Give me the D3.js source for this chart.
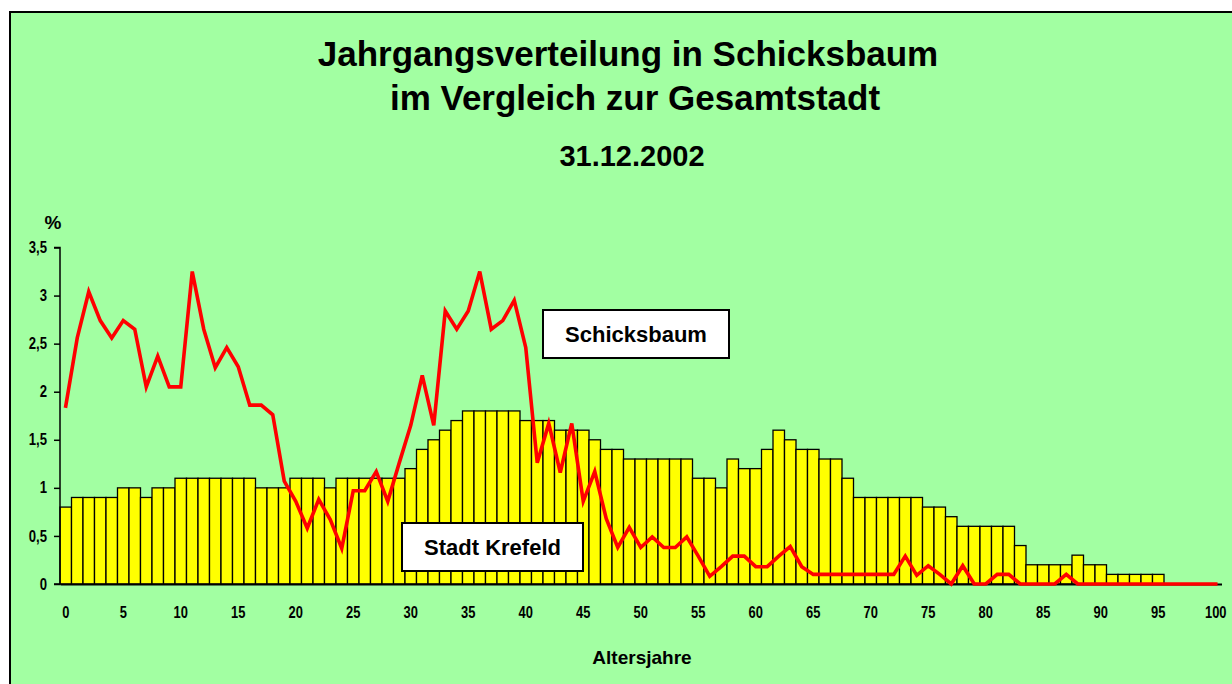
<!DOCTYPE html>
<html>
<head>
<meta charset="utf-8">
<script src="https://cdn.jsdelivr.net/npm/d3@7"></script>
<style>
  body { margin: 0; background: #ffffff; }
  svg { display: block; font-family: "Liberation Sans", Arial, sans-serif; }
</style>
</head>
<body>
<div id="my-chart"></div>
<script>
// ages 0..100
var ages = d3.range(0, 101);

// Stadt Krefeld, share of each age group in % (bars)
var krefeld = [
  0.8, 0.9, 0.9, 0.9, 0.9, 1.0, 1.0, 0.9, 1.0, 1.0,
  1.1, 1.1, 1.1, 1.1, 1.1, 1.1, 1.1, 1.0, 1.0, 1.0,
  1.1, 1.1, 1.1, 1.0, 1.1, 1.1, 1.1, 1.1, 1.1, 1.1,
  1.2, 1.4, 1.5, 1.6, 1.7, 1.8, 1.8, 1.8, 1.8, 1.8,
  1.7, 1.7, 1.7, 1.6, 1.6, 1.6, 1.5, 1.4, 1.4, 1.3,
  1.3, 1.3, 1.3, 1.3, 1.3, 1.1, 1.1, 1.0, 1.3, 1.2,
  1.2, 1.4, 1.6, 1.5, 1.4, 1.4, 1.3, 1.3, 1.1, 0.9,
  0.9, 0.9, 0.9, 0.9, 0.9, 0.8, 0.8, 0.7, 0.6, 0.6,
  0.6, 0.6, 0.6, 0.4, 0.2, 0.2, 0.2, 0.2, 0.3, 0.2,
  0.2, 0.1, 0.1, 0.1, 0.1, 0.1, 0, 0, 0, 0,
  0
];

// Schicksbaum, share of each age group in % (line)
var schicksbaum = [
  1.85, 2.56, 3.04, 2.74, 2.56, 2.74, 2.65, 2.05, 2.37, 2.05,
  2.05, 3.25, 2.65, 2.25, 2.46, 2.26, 1.86, 1.86, 1.76, 1.07,
  0.86, 0.58, 0.88, 0.67, 0.37, 0.97, 0.97, 1.17, 0.86, 1.26,
  1.65, 2.17, 1.65, 2.84, 2.65, 2.84, 3.25, 2.65, 2.74, 2.95,
  2.46, 1.26, 1.67, 1.16, 1.67, 0.86, 1.17, 0.68, 0.38, 0.59,
  0.38, 0.49, 0.38, 0.38, 0.49, 0.29, 0.08, 0.18, 0.29, 0.29,
  0.18, 0.18, 0.29, 0.39, 0.18, 0.1, 0.1, 0.1, 0.1, 0.1,
  0.1, 0.1, 0.1, 0.29, 0.09, 0.19, 0.1, 0, 0.19, 0,
  0, 0.1, 0.1, 0, 0, 0, 0, 0.1, 0, 0,
  0, 0, 0, 0, 0, 0, 0, 0, 0, 0,
  0
];

var yTicks = [0, 0.5, 1, 1.5, 2, 2.5, 3, 3.5];
var xTicks = d3.range(0, 101, 5);

var width = 1232, height = 684;
var narrow = 0.76;   // tick labels in the original are a narrow face

var svg = d3.select('#my-chart').append('svg')
  .attr('width', width)
  .attr('height', height);

// green chart area with black frame (right and bottom edge fall outside the picture)
svg.append('rect')
  .attr('x', 10).attr('y', 12)
  .attr('width', 1300).attr('height', 700)
  .attr('fill', '#a2ffa2')
  .attr('stroke', '#000').attr('stroke-width', 2);

// titles
svg.append('text').attr('x', 628).attr('y', 66)
  .attr('text-anchor', 'middle').attr('font-size', 35).attr('font-weight', 'bold')
  .text('Jahrgangsverteilung in Schicksbaum');
svg.append('text').attr('x', 635).attr('y', 110)
  .attr('text-anchor', 'middle').attr('font-size', 35).attr('font-weight', 'bold')
  .text('im Vergleich zur Gesamtstadt');
svg.append('text').attr('x', 632).attr('y', 166)
  .attr('text-anchor', 'middle').attr('font-size', 29).attr('font-weight', 'bold')
  .text('31.12.2002');

var x = d3.scaleBand().domain(ages).range([60, 1221.5]).padding(0);
var y = d3.scaleLinear().domain([0, 3.5]).range([584, 247.5]);

// bars: Stadt Krefeld
svg.append('g').selectAll('rect')
  .data(ages)
  .enter().append('rect')
  .attr('x', function(d) { return x(d); })
  .attr('y', function(d) { return y(krefeld[d]); })
  .attr('width', x.bandwidth())
  .attr('height', function(d) { return y(0) - y(krefeld[d]); })
  .attr('fill', '#ffff00')
  .attr('stroke', '#000')
  .attr('stroke-width', 1.3);

// y axis
var yAxis = d3.axisLeft(y)
  .tickValues(yTicks)
  .tickSize(6)
  .tickPadding(7)
  .tickFormat(function(d) { return String(d).replace('.', ','); });

var gy = svg.append('g').attr('transform', 'translate(60,0)').call(yAxis);
gy.select('.domain').attr('stroke', '#000').attr('stroke-width', 1.5).attr('d', 'M-6,247.5H0V584H-6');
gy.selectAll('line').attr('stroke-width', 1.5);
gy.selectAll('text')
  .attr('font-size', 16).attr('font-weight', 'bold')
  .attr('font-family', '"Liberation Sans", Arial, sans-serif')
  .attr('x', -13 / 0.82)
  .attr('transform', 'scale(0.82,1)');

// x axis: labels only plus base line
var xAxis = d3.axisBottom(x)
  .tickValues(xTicks)
  .tickSize(0)
  .tickPadding(22);

var gx = svg.append('g').attr('transform', 'translate(0,584)').call(xAxis);
gx.select('.domain').attr('stroke', '#000').attr('stroke-width', 2);
gx.selectAll('text')
  .attr('font-size', 17).attr('font-weight', 'bold')
  .attr('font-family', '"Liberation Sans", Arial, sans-serif')
  .attr('transform', 'scale(' + narrow + ',1)');

// line: Schicksbaum
var line = d3.line()
  .x(function(d) { return x(d) + x.bandwidth() / 2; })
  .y(function(d) { return y(schicksbaum[d]); });

svg.append('path')
  .datum(ages)
  .attr('d', line)
  .attr('fill', 'none')
  .attr('stroke', '#ff0000')
  .attr('stroke-width', 3.6)
  .attr('stroke-linecap', 'square')
  .attr('stroke-linejoin', 'miter');

// axis titles
svg.append('text').attr('x', 53).attr('y', 229)
  .attr('text-anchor', 'middle').attr('font-size', 19).attr('font-weight', 'bold')
  .text('%');
svg.append('text').attr('x', 642).attr('y', 664)
  .attr('text-anchor', 'middle').attr('font-size', 19).attr('font-weight', 'bold')
  .text('Altersjahre');

// series labels in white boxes
function labelBox(x0, y0, w, h, txt) {
  svg.append('rect')
    .attr('x', x0).attr('y', y0).attr('width', w).attr('height', h)
    .attr('fill', '#fff').attr('stroke', '#000').attr('stroke-width', 2);
  svg.append('text')
    .attr('x', x0 + w / 2).attr('y', y0 + h / 2 + 8)
    .attr('text-anchor', 'middle').attr('font-size', 22).attr('font-weight', 'bold')
    .text(txt);
}
labelBox(543, 310, 186, 48, 'Schicksbaum');
labelBox(402, 523, 181, 48, 'Stadt Krefeld');
</script>
</body>
</html>
